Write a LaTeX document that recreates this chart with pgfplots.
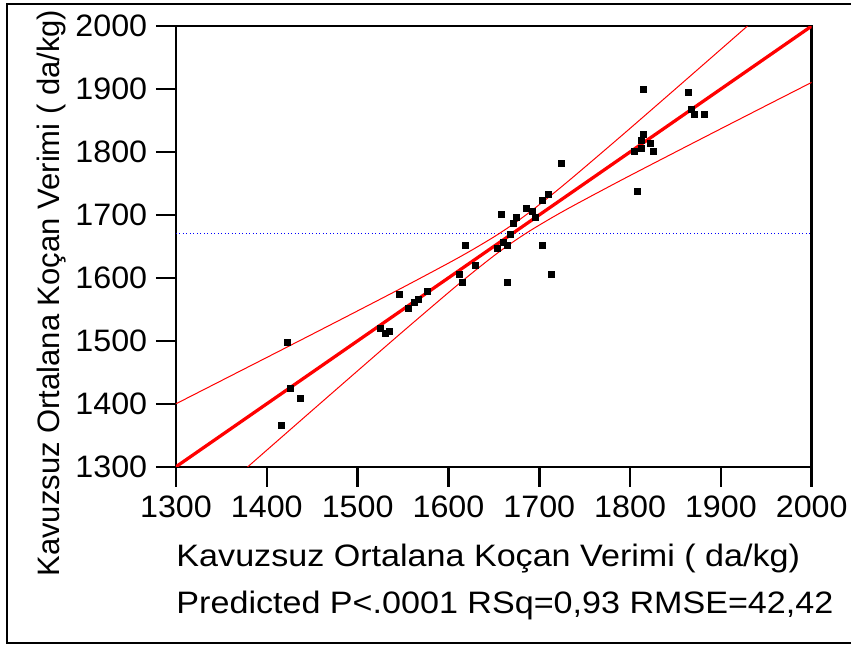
\documentclass[border=0pt]{standalone}
\usepackage{fontspec}
\setmainfont{Liberation Sans}
\newfontfamily\tickfont[FakeStretch=1.04]{Liberation Sans}
\newfontfamily\widefont[FakeStretch=1.1]{Liberation Sans}
\usepackage{pgfplots}
\pgfplotsset{compat=1.18}
\definecolor{fitred}{HTML}{FF0000}
\definecolor{meanblue}{HTML}{0000FF}

\begin{document}
\begin{tikzpicture}
\useasboundingbox (-70.4pt,-70.9pt) rectangle (270pt,186.7pt);
% outer frame (right edge is cut off in the original)
\draw[line width=0.8pt] (280pt,185.1pt) -- (-67.6pt,185.1pt) -- (-67.6pt,-70.3pt) -- (280pt,-70.3pt);
\begin{axis}[
  at={(0,0)}, anchor=south west,
  scale only axis, width=254.3pt, height=176.3pt,
  xmin=1300, xmax=2000, ymin=1300, ymax=2000,
  xtick={1300,1400,...,2000}, ytick={1300,1400,...,2000},
  tick pos=left,
  tick align=outside, major tick length=8pt,
  axis line style={line width=1pt},
  every tick/.style={black, line width=1pt},
  ticklabel style={font=\fontsize{12.4}{14}\tickfont},
  /pgf/number format/assume math mode=true,
  /pgf/number format/1000 sep={},
]
% mean of response
\addplot[meanblue, line width=0.4pt, densely dotted] coordinates {(1300,1670.7)(2000,1670.7)};
% confidence curves
\addplot[fitred, line width=0.4pt, smooth] coordinates {
  (1300,1400)(1350,1436.8)(1400,1473.6)(1450,1510.5)(1500,1547.6)(1550,1585)
  (1600,1623.4)(1625,1643.5)(1650,1665)(1670,1684)(1690,1705)(1715,1733.5)
  (1740,1763.4)(1790,1825)(1840,1887.6)(1890,1950.5)(1940,2013.6)(1990,2076.8)(2000,2089.4)
};
\addplot[fitred, line width=0.4pt, smooth] coordinates {
  (1300,1200)(1350,1263.2)(1400,1326.4)(1450,1389.5)(1500,1452.4)(1550,1515)
  (1600,1576.6)(1625,1606.5)(1650,1635)(1670,1656)(1690,1675)(1715,1696.5)
  (1740,1716.6)(1790,1755)(1840,1792.4)(1890,1829.5)(1940,1866.4)(1990,1903.2)(2000,1910.6)
};
% fit line
\addplot[fitred, line width=1.3pt] coordinates {(1300,1300)(2000,2000)};
% observations
\addplot[only marks, mark=square*, mark size=1.2pt, black] coordinates {
  (1423,1498)(1426,1425)(1437,1408)(1416,1366)(1546,1574)(1525,1520)
  (1531,1511)(1535,1515)(1556,1551)(1563,1561)(1567,1565)(1577,1579)
  (1619,1651)(1612,1606)(1615,1592)(1630,1619)(1654,1646)(1658,1701)
  (1661,1656)(1665,1652)(1665,1592)(1668,1669)(1672,1687)(1675,1696)
  (1686,1710)(1693,1705)(1696,1696)(1703,1651)(1703,1723)(1710,1732)
  (1714,1606)(1724,1782)(1815,1899)(1864,1895)(1868,1868)(1871,1859)
  (1882,1859)(1815,1827)(1812,1818)(1822,1814)(1812,1805)(1805,1800)
  (1826,1800)(1808,1737)
};
\end{axis}
\node[anchor=base west, inner sep=0pt, font=\fontsize{12.4}{14}\widefont]
  at (0pt,-39.7pt) {Kavuzsuz Ortalana Koçan Verimi ( da/kg)};
\node[anchor=base west, inner sep=0pt, font=\fontsize{12.4}{14}\widefont]
  at (0pt,-58.5pt) {Predicted P<.0001 RSq=0,93 RMSE=42,42};
\node[anchor=base west, inner sep=0pt, rotate=90, font=\fontsize{12.4}{14}\selectfont]
  at (-46.4pt,-44.1pt) {Kavuzsuz Ortalana Koçan Verimi ( da/kg)};
\end{tikzpicture}
\end{document}
